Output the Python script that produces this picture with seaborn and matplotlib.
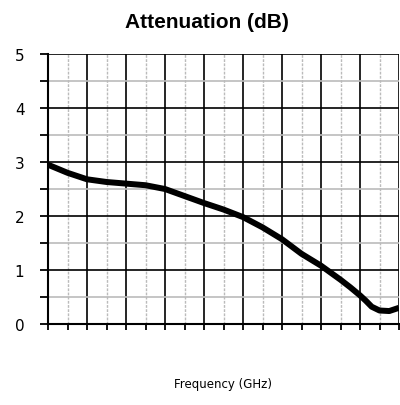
import matplotlib
matplotlib.use("Agg")
import matplotlib.pyplot as plt
import seaborn as sns
import pandas as pd
from matplotlib.ticker import MultipleLocator, NullFormatter

sns.set_style("white")
plt.rcParams["text.color"] = "black"
plt.rcParams["axes.labelcolor"] = "black"
plt.rcParams["xtick.color"] = "black"
plt.rcParams["ytick.color"] = "black"

freq = [0, 0.5, 1, 1.5, 2, 2.5, 3, 3.5, 4, 4.5, 5, 5.5, 6, 6.5, 7, 7.5, 7.75, 8, 8.15, 8.3, 8.5, 8.75, 9]
atten = [2.95, 2.80, 2.68, 2.63, 2.60, 2.57, 2.50, 2.37, 2.24, 2.12, 1.98, 1.79, 1.57, 1.30, 1.08, 0.82, 0.68, 0.53, 0.43, 0.32, 0.25, 0.24, 0.30]
y_ticks = [0, 1, 2, 3, 4, 5]

df = pd.DataFrame({"freq": freq, "atten": atten})

fig = plt.figure(figsize=(4.0, 4.06), dpi=100)
ax = fig.add_axes([0.12, 0.1995, 0.8775, 0.665])

sns.lineplot(data=df, x="freq", y="atten", ax=ax, color="black", linewidth=4.3,
             solid_joinstyle="round", solid_capstyle="butt", zorder=5)

ax.set_xlim(0, 9)
ax.set_ylim(0, 5)
ax.xaxis.set_major_locator(MultipleLocator(1))
ax.xaxis.set_minor_locator(MultipleLocator(0.5))
ax.yaxis.set_major_locator(MultipleLocator(1))
ax.yaxis.set_minor_locator(MultipleLocator(0.5))
ax.xaxis.set_major_formatter(NullFormatter())
ax.set_yticks(y_ticks)
ax.set_yticklabels([str(v) for v in y_ticks])

# grids
ax.grid(which="major", color="black", linewidth=1.2, linestyle="-", zorder=2)
ax.xaxis.grid(which="minor", color="#bbbbbb", linewidth=1.0, linestyle=(0, (2, 1)))
ax.yaxis.grid(which="minor", color="#bbbbbb", linewidth=1.2, linestyle="-")
ax.set_axisbelow(True)

for s in ["top", "right"]:
    ax.spines[s].set_visible(False)
for s in ["left", "bottom"]:
    ax.spines[s].set_color("black")
    ax.spines[s].set_linewidth(1.5)

ax.tick_params(axis="x", which="both", direction="out", length=4.5, width=1.3,
               color="black", bottom=True)
ax.tick_params(axis="y", which="both", direction="out", length=6, width=1.3,
               color="black", left=True, labelsize=11, pad=11, labelcolor="black")

ax.set_xlabel("Frequency (GHz)", fontsize=8.5, family="DejaVu Sans", labelpad=30,
              color="black")
ax.set_ylabel("")
fig.text(0.518, 0.945, "Attenuation (dB)", fontsize=15, fontweight="bold",
         family="Liberation Sans", color="black", ha="center", va="center")

fig.savefig("out.png", dpi=100)
